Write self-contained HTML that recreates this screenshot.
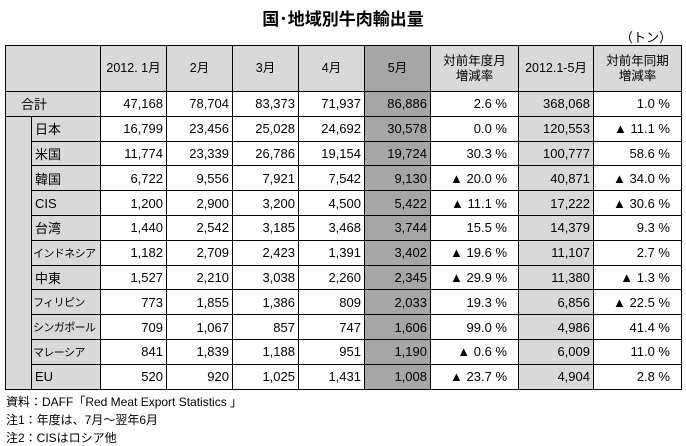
<!DOCTYPE html>
<html><head><meta charset="utf-8">
<style>
body{margin:0;width:686px;height:444px;background:#fff;position:relative;overflow:hidden;font-family:"Liberation Sans","Noto Sans CJK JP",sans-serif;color:#000}
#title{position:absolute;left:0;width:686px;top:5px;text-align:center;font-size:17px;font-weight:bold}
#unit{position:absolute;left:620px;top:27px;font-size:13px}
table{position:absolute;left:5px;top:45px;width:676px;border-collapse:collapse;table-layout:fixed;font-size:13px}
td{box-sizing:border-box;border:1px solid #000;padding:0;height:24.8px;text-align:right;padding-right:3px;white-space:nowrap;overflow:hidden}
thead td{height:46px;text-align:center;background:#d9d9d9;padding:0;font-size:12.5px;line-height:15px}
td.lab{background:#d9d9d9;text-align:left;padding-left:3px}
td.ind{background:#d9d9d9}
td.m5{background:#a6a6a6}
td.cum{background:#d9d9d9}
td.pc{padding-right:11px}
.foot{position:absolute;left:6px;font-size:12px}
</style></head><body>
<div id="title">国･地域別牛肉輸出量</div>
<div id="unit">（トン）</div>
<table>
<colgroup><col style="width:26px"><col style="width:69px"><col style="width:66px"><col style="width:66px"><col style="width:66px"><col style="width:66px"><col style="width:66px"><col style="width:88px"><col style="width:75px"><col style="width:88px"></colgroup>
<thead><tr>
<td colspan="2"></td><td>2012. 1月</td><td>2月</td><td>3月</td><td>4月</td><td style="background:#a6a6a6">5月</td><td>対前年度月<br>増減率</td><td>2012.1-5月</td><td>対前年同期<br>増減率</td></tr></thead>
<tbody id="tb"></tbody>
</table>
<div class="foot" style="top:393px">資料：DAFF「Red Meat Export Statistics 」</div>
<div class="foot" style="top:411px">注1：年度は、7月～翌年6月</div>
<div class="foot" style="top:429px">注2：CISはロシア他</div>
<script>
const regions=["合計","日本","米国","韓国","CIS","台湾","インドネシア","中東","フィリピン","シンガポール","マレーシア","EU"];
const jan=["47,168","16,799","11,774","6,722","1,200","1,440","1,182","1,527","773","709","841","520"];
const feb=["78,704","23,456","23,339","9,556","2,900","2,542","2,709","2,210","1,855","1,067","1,839","920"];
const mar=["83,373","25,028","26,786","7,921","3,200","3,185","2,423","3,038","1,386","857","1,188","1,025"];
const apr=["71,937","24,692","19,154","7,542","4,500","3,468","1,391","2,260","809","747","951","1,431"];
const may=["86,886","30,578","19,724","9,130","5,422","3,744","3,402","2,345","2,033","1,606","1,190","1,008"];
const yoyMonth=["2.6 %","0.0 %","30.3 %","▲ 20.0 %","▲ 11.1 %","15.5 %","▲ 19.6 %","▲ 29.9 %","19.3 %","99.0 %","▲ 0.6 %","▲ 23.7 %"];
const cum=["368,068","120,553","100,777","40,871","17,222","14,379","11,107","11,380","6,856","4,986","6,009","4,904"];
const yoyPeriod=["1.0 %","▲ 11.1 %","58.6 %","▲ 34.0 %","▲ 30.6 %","9.3 %","2.7 %","▲ 1.3 %","▲ 22.5 %","41.4 %","11.0 %","2.8 %"];
const tb=document.getElementById('tb');
function cell(tr,txt,cls,name){const td=document.createElement('td');td.textContent=txt;if(cls)td.className=cls;


tr.appendChild(td);return td;}
regions.forEach((r,i)=>{
const tr=document.createElement('tr');


if(i===0){const t=cell(tr,r,'lab','region-label');t.colSpan=2;t.style.paddingLeft='15px';}
else{
 if(i===1){const t=cell(tr,'','ind','indent-cell');t.rowSpan=regions.length-1;}
 const l=cell(tr,r,'lab','region-label');
 if(r.length>=5){l.style.fontSize='11px';l.style.letterSpacing='-0.6px';l.style.paddingLeft='1px';}
}
cell(tr,jan[i],'','jan-value');
cell(tr,feb[i],'','feb-value');
cell(tr,mar[i],'','mar-value');
cell(tr,apr[i],'','apr-value');
cell(tr,may[i],'m5','may-value');
cell(tr,yoyMonth[i],'pc','yoy-month-value');
cell(tr,cum[i],'cum','cumulative-value');
cell(tr,yoyPeriod[i],'pc','yoy-period-value');
tb.appendChild(tr);
});
</script>
</body></html>
